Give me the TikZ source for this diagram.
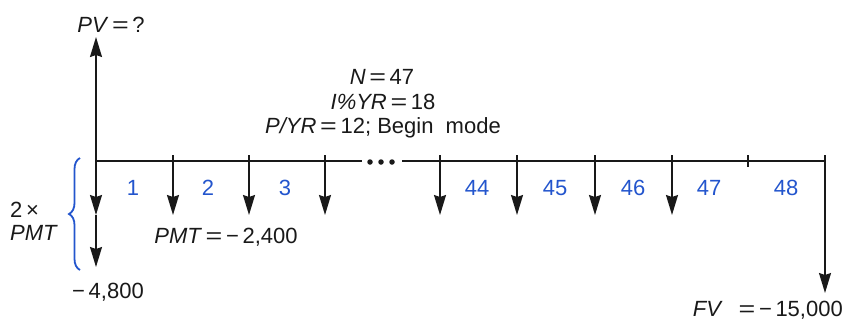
\documentclass[tikz,border=0pt]{standalone}
\usepackage{fontspec}
\setmainfont{Liberation Sans}
\usetikzlibrary{arrows.meta,decorations.pathreplacing}
\definecolor{numblue}{RGB}{35,85,205}
\definecolor{ink}{RGB}{25,25,25}
\newcommand{\eqs}{\,\scalebox{1.3}[1]{=}\,}
\tikzset{
  lbl/.style={inner sep=0pt, text=ink, font=\fontsize{22}{25}\selectfont},
  num/.style={inner sep=0pt, text=numblue, font=\fontsize{22}{25}\selectfont},
  flow/.style={draw=ink, line width=1.5pt, -{Stealth[length=20pt,width=12pt,inset=2pt]}},
  axisline/.style={draw=ink, line width=1.5pt},
  dotmark/.style={circle, fill=ink, inner sep=0pt, minimum size=5.5pt}
}
\begin{document}
\begin{tikzpicture}[x=1pt,y=-1pt]
\useasboundingbox (0,0) rectangle (845,322);
% coordinates
\coordinate (o) at (96,161);
\coordinate (pvtip) at (96,37);
\coordinate (lA) at (362,161);
\coordinate (lB) at (402,161);
\coordinate (lE) at (825,161);
\coordinate (mid0) at (96,215);
\coordinate (end0) at (96,267);
\coordinate (tk48) at (748,155);
\coordinate (tk48b) at (748,167);
\coordinate (fvtop) at (825,155);
\coordinate (fvtip) at (825,293);
% timeline
\draw[axisline] (o) -- (lA);
\draw[axisline] (lB) -- (lE);
\node[dotmark] (d1) at (370,162) {};
\node[dotmark] (d2) at (381,162) {};
\node[dotmark] (d3) at (392,162) {};
% PV arrow
\draw[flow] (o) -- (pvtip);
% double payment at time 0
\draw[flow] (o) -- (mid0);
\draw[flow] (mid0) -- (end0);
% payment arrows
\foreach \x/\n in {173/a,249/b,325/c,440/d,517/e,595/f,672/g}{
  \coordinate (s\n) at (\x,155);
  \coordinate (t\n) at (\x,215);
  \draw[flow] (s\n) -- (t\n);
}
\draw[axisline] (tk48) -- (tk48b);
\draw[flow] (fvtop) -- (fvtip);
% brace
\draw[numblue, line width=1.8pt, decorate, decoration={brace, amplitude=11pt}]
  (80,270) -- (80,158);
% labels
\node[lbl] (pv) at (111,25) {\textit{PV}\eqs ?};
\node[lbl] (n) at (382,77) {\textit{N}\eqs 47};
\node[lbl] (i) at (383,102) {\textit{I\%YR}\eqs 18};
\node[lbl] (p) at (383,128) {\textit{P/YR}\eqs 12;\ Begin\ \ mode};
\node[lbl] (pmt) at (226,237) {\textit{PMT}\eqs −\,2,400};
\node[lbl] (m48) at (108,292) {−\,4,800};
\node[lbl, anchor=west] (two) at (10,210) {2\,×};
\node[lbl, anchor=west] (pmt2) at (10,233) {\textit{PMT}};
\node[lbl, anchor=east] (fv) at (843,310) {\textit{FV}\ \ \eqs −\,15,000};
\foreach \x/\t in {133/1,208/2,285/3,477/44,555/45,633/46,709/47,786/48}{
  \node[num] (n\t) at (\x,188) {\t};
}
\end{tikzpicture}
\end{document}
